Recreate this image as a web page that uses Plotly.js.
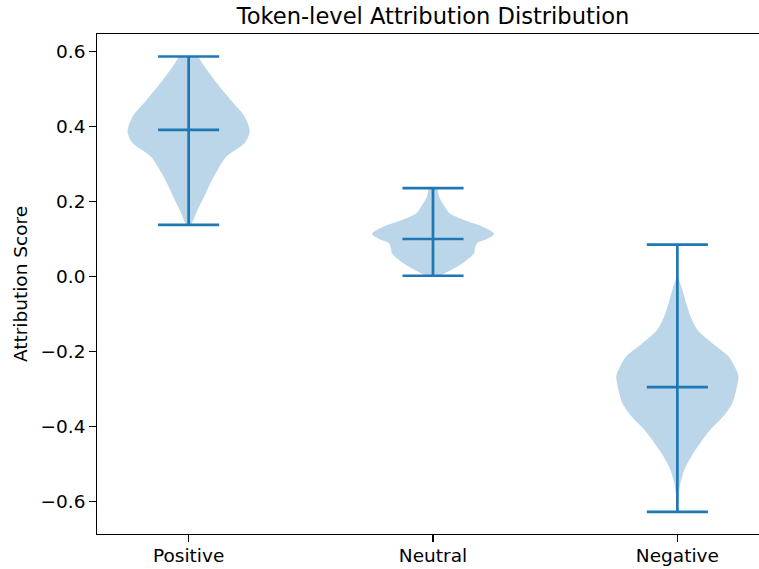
<!DOCTYPE html>
<html>
<head>
<meta charset="utf-8">
<script src="https://cdn.plot.ly/plotly-3.0.1.min.js"></script>
<style>
html, body { margin: 0; padding: 0; overflow: hidden; background: #fff; }
#chart { width: 800px; height: 569px; }
</style>
</head>
<body>
<div id="chart"></div>
<script>
// Categories and positions
var categories = ["Positive", "Neutral", "Negative"];
var positions = [1, 2, 3];

// Summary statistics
var means = [0.391, 0.100, -0.295];
var mins = [0.138, 0.002, -0.628];
var maxes = [0.587, 0.236, 0.085];

// Density profiles (score level, half-width in category units)
var positiveY = [0.587, 0.560, 0.516, 0.471, 0.427, 0.387, 0.356, 0.320, 0.285, 0.249, 0.213, 0.178, 0.138];
var positiveW = [0.039, 0.065, 0.115, 0.172, 0.229, 0.250, 0.229, 0.155, 0.119, 0.089, 0.063, 0.037, 0.008];

var neutralY = [0.236, 0.213, 0.187, 0.169, 0.151, 0.133, 0.114, 0.100, 0.089, 0.075, 0.062, 0.036, 0.009, 0.002];
var neutralW = [0.018, 0.025, 0.048, 0.068, 0.127, 0.204, 0.250, 0.221, 0.180, 0.172, 0.168, 0.123, 0.049, 0.020];

var negativeY = [0.085, 0.040, 0.000, -0.035, -0.071, -0.107, -0.142, -0.178, -0.213, -0.249, -0.267, -0.302, -0.338, -0.373, -0.409, -0.444, -0.480, -0.515, -0.551, -0.587, -0.628];
var negativeW = [0.000, 0.001, 0.004, 0.020, 0.036, 0.054, 0.082, 0.143, 0.209, 0.241, 0.250, 0.241, 0.225, 0.188, 0.135, 0.094, 0.057, 0.029, 0.013, 0.005, 0.002];

var profilesY = [positiveY, neutralY, negativeY];
var profilesW = [positiveW, neutralW, negativeW];

var C0 = "#1f77b4";
var capHalf = 0.125;
var lw = 2.7;
var font = "DejaVu Sans, sans-serif";
var tickSize = 18.5;

var traces = [];
// Violin bodies
for (var i = 0; i < categories.length; i++) {
  var ys = profilesY[i], ws = profilesW[i], p = positions[i];
  var px = [], py = [];
  for (var k = 0; k < ys.length; k++) { px.push(p + ws[k]); py.push(ys[k]); }
  for (var k = ys.length - 1; k >= 0; k--) { px.push(p - ws[k]); py.push(ys[k]); }
  traces.push({
    type: "scatter", mode: "lines", x: px, y: py,
    fill: "toself", fillcolor: "rgba(31,119,180,0.3)",
    line: { width: 0, shape: "spline", smoothing: 0.8, color: "rgba(31,119,180,0)" },
    hoverinfo: "skip", showlegend: false
  });
}
// Extrema bars and means
for (var i = 0; i < categories.length; i++) {
  var p = positions[i];
  var lines = [
    { x: [p, p], y: [mins[i], maxes[i]] },
    { x: [p - capHalf, p + capHalf], y: [maxes[i], maxes[i]] },
    { x: [p - capHalf, p + capHalf], y: [mins[i], mins[i]] },
    { x: [p - capHalf, p + capHalf], y: [means[i], means[i]] }
  ];
  lines.forEach(function (l) {
    traces.push({
      type: "scatter", mode: "lines", x: l.x, y: l.y,
      line: { color: C0, width: lw }, hoverinfo: "skip", showlegend: false
    });
  });
}

var layout = {
  width: 800, height: 569,
  margin: { l: 97, r: 31, t: 34, b: 35 },
  paper_bgcolor: "#fff", plot_bgcolor: "#fff",
  font: { family: font, size: tickSize, color: "#000" },
  title: {
    text: "Token-level Attribution Distribution",
    font: { family: font, size: 22.6, color: "#000" },
    x: 0.5, xref: "paper", xanchor: "center",
    y: 1, yref: "paper", yanchor: "bottom", pad: { b: 10 }
  },
  xaxis: {
    range: [0.625, 3.375], tickmode: "array", tickvals: positions, ticktext: categories,
    showgrid: false, zeroline: false, showline: true, mirror: true,
    linecolor: "#000", linewidth: 1.4, ticks: "outside", ticklen: 6.4, tickwidth: 1.4, tickcolor: "#000",
    tickfont: { family: font, size: tickSize, color: "#000" }, ticklabelstandoff: -2
  },
  yaxis: {
    range: [-0.687, 0.647], tickmode: "linear", tick0: 0, dtick: 0.2, tickformat: ".1f",
    showgrid: false, zeroline: false, showline: true, mirror: true,
    linecolor: "#000", linewidth: 1.4, ticks: "outside", ticklen: 6.4, tickwidth: 1.4, tickcolor: "#000",
    tickfont: { family: font, size: tickSize, color: "#000" },
    title: { text: "Attribution Score", font: { family: font, size: tickSize, color: "#000" }, standoff: 8 }
  }
};

Plotly.newPlot("chart", traces, layout, { displayModeBar: false, staticPlot: true });
</script>
</body>
</html>
